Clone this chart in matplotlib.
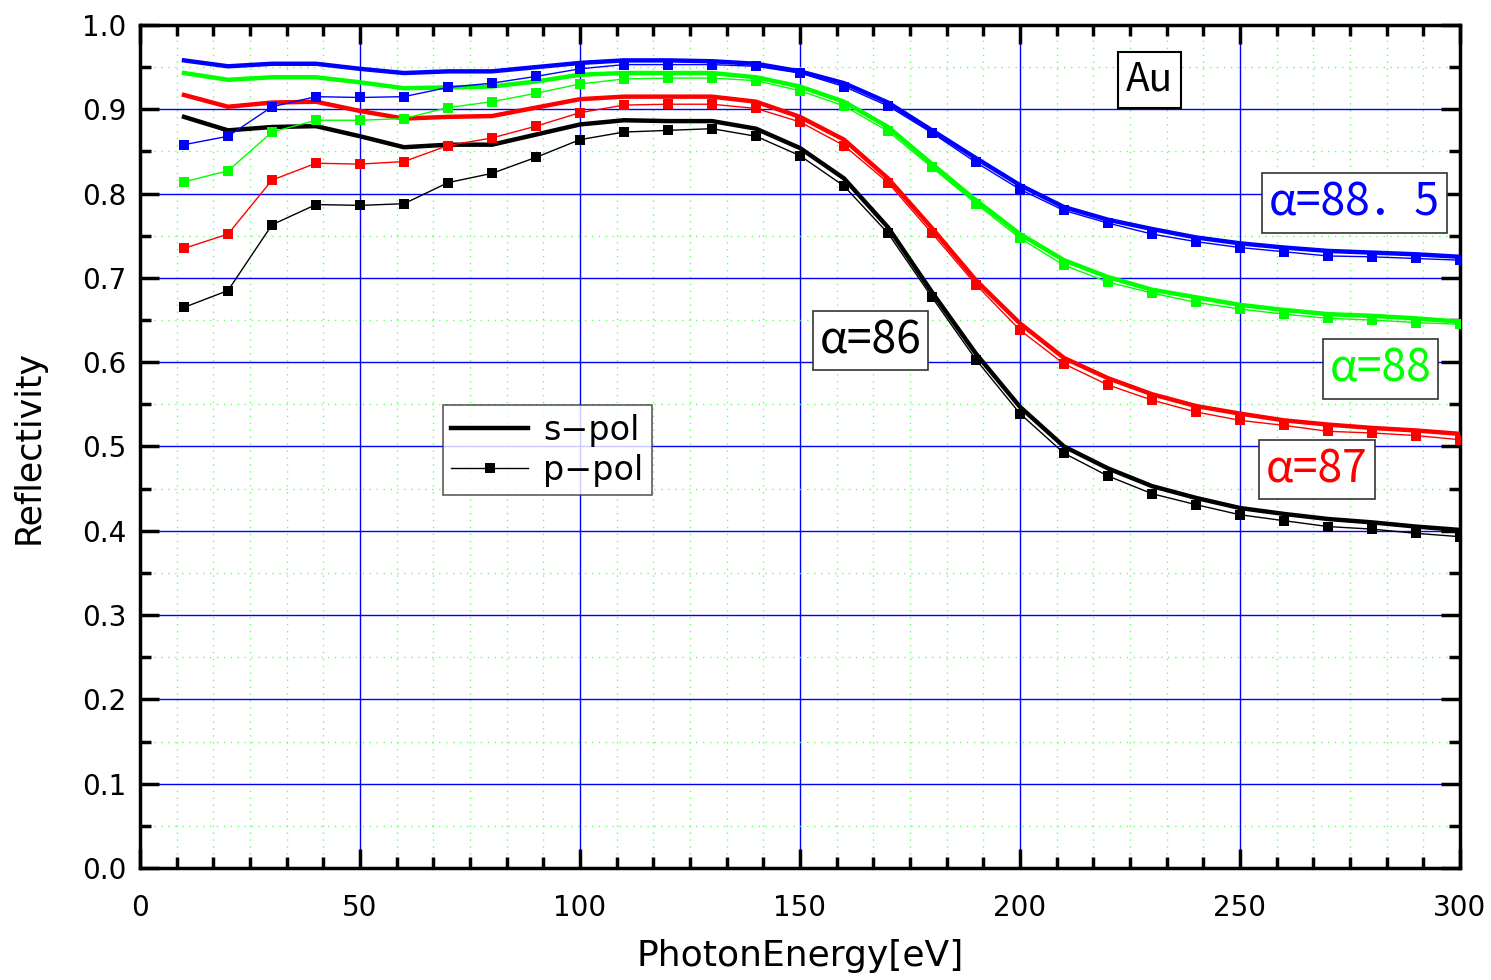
import matplotlib.pyplot as plt
from matplotlib.ticker import MultipleLocator
import numpy as np

# photon energy grid [eV]
energy = np.arange(10, 301, 10)

# alpha = 86 deg
s_86 = [0.891, 0.875, 0.879, 0.880, 0.868, 0.855, 0.858, 0.858, 0.870, 0.882,
        0.887, 0.886, 0.886, 0.877, 0.854, 0.818, 0.760, 0.683, 0.610, 0.547,
        0.500, 0.474, 0.453, 0.439, 0.427, 0.420, 0.414, 0.410, 0.405, 0.401]
p_86 = [0.665, 0.685, 0.763, 0.787, 0.786, 0.788, 0.813, 0.824, 0.843, 0.864,
        0.873, 0.875, 0.877, 0.868, 0.845, 0.809, 0.753, 0.677, 0.603, 0.539,
        0.492, 0.465, 0.444, 0.431, 0.419, 0.412, 0.405, 0.402, 0.397, 0.393]

# alpha = 87 deg
s_87 = [0.917, 0.903, 0.908, 0.909, 0.898, 0.889, 0.891, 0.892, 0.902, 0.912,
        0.915, 0.915, 0.915, 0.909, 0.891, 0.864, 0.818, 0.759, 0.697, 0.646,
        0.605, 0.581, 0.562, 0.548, 0.539, 0.531, 0.526, 0.522, 0.519, 0.515]
p_87 = [0.735, 0.752, 0.816, 0.836, 0.835, 0.838, 0.857, 0.866, 0.880, 0.896,
        0.905, 0.906, 0.906, 0.901, 0.885, 0.857, 0.813, 0.753, 0.692, 0.638,
        0.598, 0.573, 0.555, 0.541, 0.531, 0.525, 0.518, 0.516, 0.513, 0.508]

# alpha = 88 deg
s_88 = [0.943, 0.935, 0.938, 0.938, 0.932, 0.925, 0.926, 0.927, 0.933, 0.941,
        0.943, 0.943, 0.943, 0.938, 0.927, 0.909, 0.879, 0.835, 0.792, 0.752,
        0.721, 0.701, 0.686, 0.677, 0.668, 0.662, 0.657, 0.655, 0.652, 0.648]
p_88 = [0.814, 0.827, 0.873, 0.887, 0.887, 0.889, 0.902, 0.909, 0.919, 0.930,
        0.936, 0.937, 0.937, 0.934, 0.922, 0.904, 0.874, 0.831, 0.788, 0.747,
        0.715, 0.695, 0.682, 0.671, 0.663, 0.657, 0.652, 0.650, 0.647, 0.645]

# alpha = 88.5 deg
s_885 = [0.958, 0.951, 0.954, 0.954, 0.948, 0.943, 0.945, 0.945, 0.950, 0.955,
         0.958, 0.958, 0.957, 0.954, 0.945, 0.931, 0.908, 0.875, 0.842, 0.810,
         0.784, 0.769, 0.758, 0.748, 0.741, 0.736, 0.732, 0.730, 0.728, 0.725]
p_885 = [0.858, 0.868, 0.903, 0.915, 0.914, 0.915, 0.926, 0.931, 0.939, 0.948,
         0.953, 0.953, 0.953, 0.951, 0.943, 0.927, 0.904, 0.872, 0.837, 0.805,
         0.780, 0.765, 0.752, 0.743, 0.736, 0.731, 0.726, 0.725, 0.723, 0.721]

series = [
    ('black', s_86, p_86),
    ('#ff0000', s_87, p_87),
    ('#00ff00', s_88, p_88),
    ('#0000ff', s_885, p_885),
]

label_font = ['Noto Sans CJK JP', 'DejaVu Sans']

fig = plt.figure(figsize=(14.91, 9.80), dpi=100)
ax = fig.add_axes([0.0939, 0.1143, 0.8853, 0.8602])

for color, s_vals, p_vals in series:
    ax.plot(energy, s_vals, color=color, lw=3.2, zorder=3)
    ax.plot(energy, p_vals, color=color, lw=1.0, marker='s', ms=7.5,
            markeredgewidth=0, zorder=3)

ax.set_xlim(0, 300)
ax.set_ylim(0, 1.0)
ax.xaxis.set_major_locator(MultipleLocator(50))
ax.xaxis.set_minor_locator(MultipleLocator(50 / 6))
ax.yaxis.set_major_locator(MultipleLocator(0.1))
ax.yaxis.set_minor_locator(MultipleLocator(0.05))
ax.yaxis.set_major_formatter(plt.FormatStrFormatter('%.1f'))

ax.grid(which='major', color='#0000ff', lw=1.0, zorder=1)
ax.grid(which='minor', color='#66ff66', lw=1.0, ls=(0, (1, 4)), zorder=1)
ax.set_axisbelow(True)

for sp in ax.spines.values():
    sp.set_linewidth(2.5)
ax.tick_params(which='both', direction='in', top=True, right=True,
               labelsize=20, width=2.5)
ax.tick_params(axis='y', pad=10)
ax.tick_params(axis='x', pad=19)
ax.tick_params(which='major', length=14)
ax.tick_params(which='minor', length=8)

ax.set_xlabel('PhotonEnergy[eV]', fontsize=26, labelpad=12)
ax.set_ylabel('Reflectivity', fontsize=25, labelpad=26)

box = dict(boxstyle='square,pad=0.15', fc='white', ec='#333333', lw=1.2)
ax.text(166, 0.626, 'α=86', fontsize=32, color='black', ha='center',
        va='center', bbox=box, family=label_font)
ax.text(267.5, 0.473, 'α=87', fontsize=32, color='#ff0000', ha='center',
        va='center', bbox=box, family=label_font)
ax.text(282, 0.592, 'α=88', fontsize=32, color='#00ff00', ha='center',
        va='center', bbox=box, family=label_font)
ax.text(276, 0.789, 'α=88．5', fontsize=32, color='#0000ff', ha='center',
        va='center', bbox=box, family=label_font)
ax.text(229.5, 0.935, 'Au', fontsize=28, color='black', ha='center',
        va='center', bbox=dict(boxstyle='square,pad=0.2', fc='white',
                               ec='black', lw=1.5), family=label_font)

# legend proxies
ax.plot([], [], color='black', lw=3.2, label='s−pol')
ax.plot([], [], color='black', lw=1.0, marker='s', ms=7.5, markeredgewidth=0,
        label='p−pol')
handles, labels = ax.get_legend_handles_labels()
leg = ax.legend(handles, labels, loc='upper left',
                bbox_to_anchor=(0.2295, 0.549), borderaxespad=0,
                fontsize=24, frameon=True, fancybox=False,
                edgecolor='#333333', handlelength=2.3, borderpad=0.25,
                labelspacing=0.22, handletextpad=0.45)
leg.get_frame().set_linewidth(1.2)

fig.savefig('out.png', dpi=100)
plt.close(fig)
